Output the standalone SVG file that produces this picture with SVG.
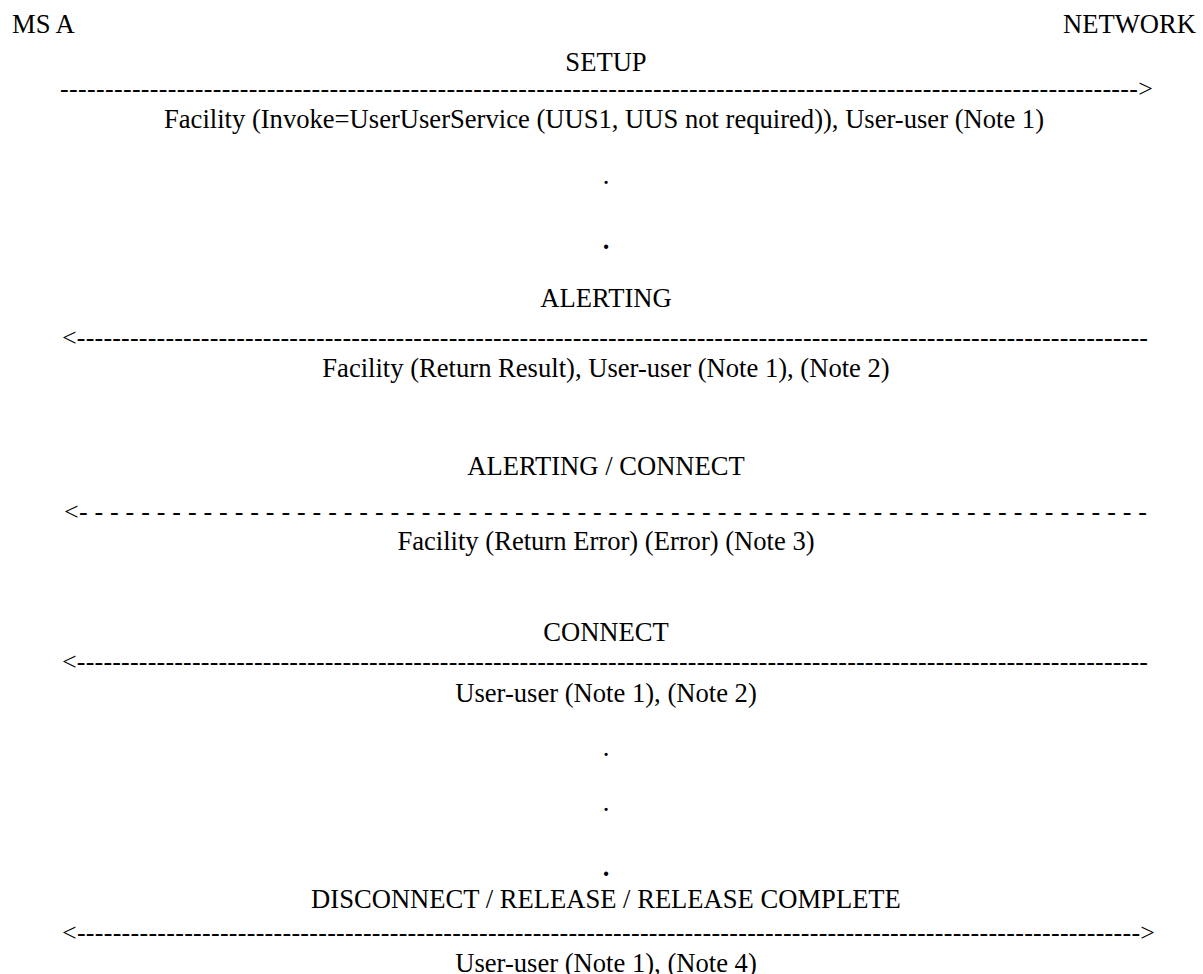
<svg xmlns="http://www.w3.org/2000/svg" width="1203" height="974" viewBox="0 0 1203 974">
<style>
text{font-family:"Liberation Serif","Times New Roman",serif;font-size:26.6px;fill:#000}
.c{text-anchor:middle}
.arrow{font-size:26px}
</style>
<rect width="1203" height="974" fill="#fff"/>
<g id="ms-a"><text x="12" y="33">MS A</text></g>
<g id="network"><text x="1196" y="33" text-anchor="end">NETWORK</text></g>
<g id="labels">
<text class="c" x="606" y="71">SETUP</text>
<text class="c" x="604" y="128">Facility (Invoke=UserUserService (UUS1, UUS not required)), User-user (Note 1)</text>
<text class="c" x="606" y="184">.</text>
<text class="c" x="606" y="249" font-weight="bold">.</text>
<text class="c" x="606" y="307">ALERTING</text>
<text class="c" x="606" y="377">Facility (Return Result), User-user (Note 1), (Note 2)</text>
<text class="c" x="606" y="475">ALERTING / CONNECT</text>
<text class="c" x="606" y="550">Facility (Return Error) (Error) (Note 3)</text>
<text class="c" x="606" y="641">CONNECT</text>
<text class="c" x="606" y="702">User-user (Note 1), (Note 2)</text>
<text class="c" x="606" y="756">.</text>
<text class="c" x="606" y="811">.</text>
<text class="c" x="606" y="876" font-weight="bold">.</text>
<text class="c" x="606" y="908">DISCONNECT / RELEASE / RELEASE COMPLETE</text>
<text class="c" x="606" y="972">User-user (Note 1), (Note 4)</text>
</g>
<g id="connectors">
<text class="arrow" x="60" y="97" textLength="1093" lengthAdjust="spacing">------------------------------------------------------------------------------------------------------------------------&gt;</text>
<text class="arrow" x="62" y="346" textLength="1086" lengthAdjust="spacing">&lt;-------------------------------------------------------------------------------------------------------------------------</text>
<text class="arrow" x="64" y="520" textLength="1083" lengthAdjust="spacing">&lt;- - - - - - - - - - - - - - - - - - - - - - - - - - - - - - - - - - - - - - - - - - - - - - - - - - - - - - - - - - - - - - - - - - - - -</text>
<text class="arrow" x="62" y="670" textLength="1086" lengthAdjust="spacing">&lt;-------------------------------------------------------------------------------------------------------------------------</text>
<text class="arrow" x="62" y="941" textLength="1093" lengthAdjust="spacing">&lt;-----------------------------------------------------------------------------------------------------------------------&gt;</text>
</g>
</svg>
